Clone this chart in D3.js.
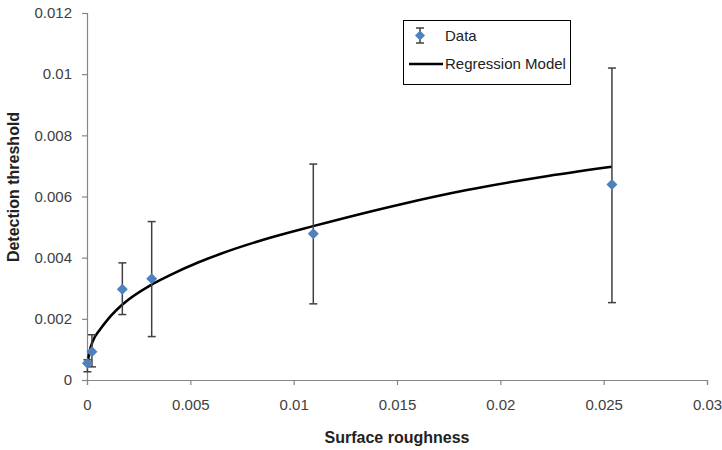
<!DOCTYPE html>
<html>
<head>
<meta charset="utf-8">
<script src="https://cdn.jsdelivr.net/npm/d3@7"></script>
<style>
  body { margin: 0; background: #fff; }
  text { font-family: "Liberation Sans", Arial, sans-serif; }
</style>
</head>
<body>
<div id="chart"></div>
<script>
(() => {
"use strict";

const WIDTH = 722, HEIGHT = 450;

// measured data: surface roughness vs detection threshold, with error bar ends
const roughness = [0.00002, 0.00024, 0.00171, 0.00313, 0.01095, 0.0254];
const threshold = [0.00055, 0.00092, 0.00297, 0.00331, 0.00478, 0.00639];
const errLow    = [0.00027, 0.00043, 0.00214, 0.00142, 0.00249, 0.00253];
const errHigh   = [0.00066, 0.00148, 0.00383, 0.00518, 0.00706, 0.0102];

// regression curve
const modelX = [0.00002, 0.0001, 0.0003, 0.00063, 0.00103, 0.0017, 0.0031, 0.00402, 0.0054, 0.00644, 0.00886, 0.01094, 0.01515, 0.01838, 0.02193, 0.0254];
const modelY = [0.00046, 0.00085, 0.0013, 0.00165, 0.002, 0.00246, 0.00311, 0.00343, 0.00385, 0.00412, 0.00465, 0.00503, 0.00574, 0.00621, 0.00663, 0.00697];

const xTicks = [0, 0.005, 0.01, 0.015, 0.02, 0.025, 0.03];
const yTicks = [0, 0.002, 0.004, 0.006, 0.008, 0.01, 0.012];

let svg = d3.select("#chart").append("svg")
  .attr("width", WIDTH)
  .attr("height", HEIGHT);

let x = d3.scaleLinear().domain([0, 0.03]).range([87, 707]);
let y = d3.scaleLinear().domain([0, 0.012]).range([380, 13]);

const AXIS = "#868686", LABEL = "#404040";

///////////
// Axes  //
///////////

let xAxis = svg.append("g")
  .attr("transform", `translate(0,${y(0)})`)
  .call(d3.axisBottom(x).tickValues(xTicks).tickSize(5).tickPadding(14)
    .tickFormat(d => d3.format("")(+d.toFixed(3))));
let yAxis = svg.append("g")
  .attr("transform", `translate(${x(0)},0)`)
  .call(d3.axisLeft(y).tickValues(yTicks).tickSize(5).tickPadding(10)
    .tickFormat(d => d3.format("")(+d.toFixed(3))));

[xAxis, yAxis].forEach(a => {
  a.select(".domain").attr("stroke", AXIS).attr("stroke-width", 1.2);
  a.selectAll(".tick line").attr("stroke", AXIS).attr("stroke-width", 1.2);
  a.selectAll(".tick text").attr("fill", LABEL).style("font-size", "15px");
});

svg.append("text")
  .attr("x", 397).attr("y", 443)
  .attr("text-anchor", "middle")
  .style("font-size", "16px").style("font-weight", "bold")
  .attr("fill", "#222")
  .text("Surface roughness");

svg.append("text")
  .attr("transform", "translate(19,187) rotate(-90)")
  .attr("text-anchor", "middle")
  .style("font-size", "16px").style("font-weight", "bold")
  .attr("fill", "#222")
  .text("Detection threshold");

////////////////
// Regression //
////////////////

let line = d3.line()
  .x(i => x(modelX[i]))
  .y(i => y(modelY[i]))
  .curve(d3.curveMonotoneX);

svg.append("path")
  .datum(d3.range(modelX.length))
  .attr("d", line)
  .attr("fill", "none")
  .attr("stroke", "#000")
  .attr("stroke-width", 2.5);

//////////
// Data //
//////////

const diamond = (cx, cy, r) =>
  `M${cx},${cy - r}L${cx + r},${cy}L${cx},${cy + r}L${cx - r},${cy}Z`;

let bars = svg.append("g")
  .attr("stroke", "#404040")
  .attr("stroke-width", 1.5);
roughness.forEach((rx, i) => {
  let cx = x(rx);
  bars.append("line")
    .attr("x1", cx).attr("x2", cx)
    .attr("y1", y(errLow[i])).attr("y2", y(errHigh[i]));
  [errLow[i], errHigh[i]].forEach(v => {
    bars.append("line")
      .attr("x1", cx - 4).attr("x2", cx + 4)
      .attr("y1", y(v)).attr("y2", y(v));
  });
});

svg.append("g").selectAll("path")
  .data(roughness)
  .join("path")
  .attr("d", (d, i) => diamond(x(d), y(threshold[i]), 5.5))
  .attr("fill", "#4F81BD");

////////////
// Legend //
////////////

let legend = svg.append("g");
legend.append("rect")
  .attr("x", 403.5).attr("y", 20.5)
  .attr("width", 167).attr("height", 64)
  .attr("fill", "#fff")
  .attr("stroke", "#000")
  .attr("stroke-width", 1);

legend.append("line")
  .attr("x1", 420).attr("x2", 420).attr("y1", 28).attr("y2", 43)
  .attr("stroke", "#404040").attr("stroke-width", 1.5);
[28, 43].forEach(v => legend.append("line")
  .attr("x1", 416).attr("x2", 424).attr("y1", v).attr("y2", v)
  .attr("stroke", "#404040").attr("stroke-width", 1.5));
legend.append("path")
  .attr("d", diamond(420, 35.5, 5))
  .attr("fill", "#4F81BD");
legend.append("text")
  .attr("x", 445).attr("y", 40.5)
  .style("font-size", "15px")
  .attr("fill", "#222")
  .text("Data");

legend.append("line")
  .attr("x1", 409).attr("x2", 443).attr("y1", 64).attr("y2", 64)
  .attr("stroke", "#000").attr("stroke-width", 2.5);
legend.append("text")
  .attr("x", 445).attr("y", 69)
  .style("font-size", "15px")
  .attr("fill", "#222")
  .text("Regression Model");
})();
</script>
</body>
</html>
